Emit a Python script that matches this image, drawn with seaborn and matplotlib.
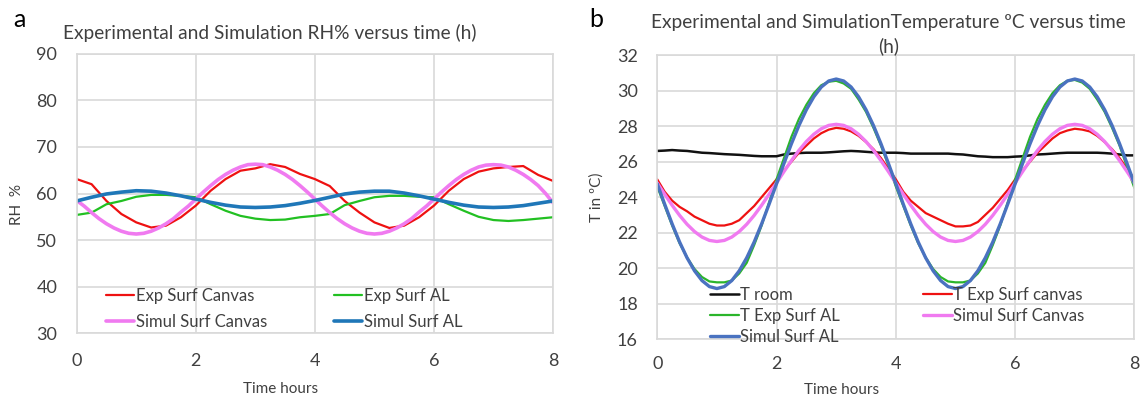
import numpy as np
import matplotlib
matplotlib.use("Agg")
import matplotlib.pyplot as plt
import seaborn as sns

# time axes: every 0.25 h and every 0.125 h
time_q = np.linspace(0, 8, 33)
time_e = np.linspace(0, 8, 65)

# panel a: relative humidity (%), sampled every 0.25 h except the pink curve (0.125 h)
rh_exp_canvas = [63.1, 62.0, 58.4, 55.6, 53.8, 52.7, 53.1, 54.9, 57.4, 60.6, 63.1, 64.9, 65.4, 66.3, 65.7, 64.2, 63.1,
                 61.6, 58.4, 55.9, 53.8, 52.6, 53.1, 54.9, 57.4, 60.6, 63.1, 64.7, 65.4, 65.7, 65.9, 64.0, 62.7]
rh_exp_al = [55.4, 55.9, 57.7, 58.4, 59.3, 59.7, 59.7, 59.5, 59.2, 57.7, 56.3, 55.2, 54.6, 54.3, 54.4, 54.9, 55.2,
             55.6, 57.5, 58.4, 59.2, 59.5, 59.5, 59.3, 59.2, 57.7, 56.3, 55.0, 54.3, 54.1, 54.3, 54.6, 54.9]
rh_sim_canvas = [58.5, 57.3, 55.9, 54.6, 53.5, 52.6, 51.9, 51.45, 51.3, 51.45, 51.9, 52.6, 53.5, 54.6, 56.0, 57.3,
                 58.8, 60.3, 61.7, 63.0, 64.1, 65.0, 65.7, 66.2, 66.3, 66.2, 65.7, 65.0, 64.1, 63.0, 61.7, 60.3, 58.8,
                 57.3, 55.9, 54.6, 53.5, 52.6, 51.9, 51.45, 51.3, 51.45, 51.9, 52.6, 53.5, 54.6, 56.0, 57.3,
                 58.8, 60.3, 61.7, 63.0, 64.1, 65.0, 65.7, 66.1, 66.2, 66.1, 65.7, 65.0, 64.1, 63.0, 61.7, 60.0, 58.0]
rh_sim_al = [58.4, 59.2, 59.9, 60.3, 60.6, 60.5, 60.1, 59.5, 58.8, 58.1, 57.5, 57.1, 57.0, 57.1, 57.4, 57.9, 58.5,
             59.2, 59.9, 60.3, 60.5, 60.5, 60.1, 59.5, 58.8, 58.1, 57.5, 57.1, 57.0, 57.1, 57.4, 57.9, 58.4]

# panel b: temperature (ºC), sampled every 0.125 h
t_room = [26.6, 26.62, 26.65, 26.62, 26.6, 26.55, 26.5, 26.48, 26.45, 26.42, 26.4, 26.38, 26.35, 26.32, 26.3, 26.3,
          26.3, 26.4, 26.45, 26.48, 26.5, 26.5, 26.5, 26.52, 26.55, 26.58, 26.6, 26.58, 26.55, 26.52, 26.5, 26.5,
          26.5, 26.48, 26.45, 26.45, 26.45, 26.45, 26.45, 26.45, 26.42, 26.4, 26.35, 26.3, 26.28, 26.25, 26.25,
          26.25, 26.28, 26.3, 26.35, 26.4, 26.42, 26.45, 26.48, 26.5, 26.5, 26.5, 26.5, 26.5, 26.48, 26.45, 26.4,
          26.35, 26.35]
t_exp_canvas = [25.0, 24.3, 23.8, 23.45, 23.2, 22.9, 22.7, 22.5, 22.4, 22.4, 22.5, 22.7, 23.1, 23.5, 24.0, 24.5,
                25.0, 25.5, 26.0, 26.5, 26.9, 27.3, 27.6, 27.8, 27.9, 27.85, 27.7, 27.45, 27.1, 26.7, 26.2, 25.6,
                25.0, 24.3, 23.8, 23.45, 23.1, 22.9, 22.7, 22.5, 22.35, 22.35, 22.4, 22.6, 23.0, 23.4, 23.9, 24.4,
                25.0, 25.5, 26.0, 26.5, 26.9, 27.3, 27.6, 27.75, 27.85, 27.8, 27.7, 27.45, 27.1, 26.7, 26.2, 25.6,
                25.0]
t_exp_al = [24.6, 23.5, 22.4, 21.4, 20.6, 19.95, 19.5, 19.25, 19.2, 19.2, 19.3, 19.7, 20.3, 21.3, 22.4, 23.7,
            25.0, 26.2, 27.4, 28.4, 29.2, 29.85, 30.3, 30.5, 30.55, 30.4, 30.1, 29.5, 28.8, 27.9, 26.9, 25.8,
            24.6, 23.5, 22.4, 21.4, 20.6, 19.95, 19.5, 19.25, 19.2, 19.2, 19.3, 19.7, 20.3, 21.3, 22.4, 23.7,
            25.0, 26.2, 27.4, 28.4, 29.2, 29.85, 30.3, 30.55, 30.6, 30.45, 30.1, 29.5, 28.8, 27.9, 26.9, 25.7,
            24.5]
t_sim_canvas = [24.8, 24.16, 23.54, 22.97, 22.47, 22.06, 21.75, 21.56, 21.5, 21.56, 21.75, 22.06, 22.47, 22.97,
                23.54, 24.16, 24.8, 25.44, 26.06, 26.63, 27.13, 27.54, 27.85, 28.04, 28.1, 28.04, 27.85, 27.54,
                27.13, 26.63, 26.06, 25.44, 24.8, 24.16, 23.54, 22.97, 22.47, 22.06, 21.75, 21.56, 21.5, 21.56,
                21.75, 22.06, 22.47, 22.97, 23.54, 24.16, 24.8, 25.44, 26.06, 26.63, 27.13, 27.54, 27.85, 28.04,
                28.1, 28.04, 27.85, 27.54, 27.13, 26.63, 26.06, 25.44, 24.8]
t_sim_al = [24.75, 23.6, 22.49, 21.47, 20.58, 19.85, 19.3, 18.96, 18.85, 18.96, 19.3, 19.85, 20.58, 21.47, 22.49,
            23.6, 24.75, 25.9, 27.01, 28.03, 28.92, 29.65, 30.2, 30.54, 30.65, 30.54, 30.2, 29.65, 28.92, 28.03,
            27.01, 25.9, 24.75, 23.6, 22.49, 21.47, 20.58, 19.85, 19.3, 18.96, 18.85, 18.96, 19.3, 19.85, 20.58,
            21.47, 22.49, 23.6, 24.75, 25.9, 27.01, 28.03, 28.92, 29.65, 30.2, 30.54, 30.65, 30.54, 30.2, 29.65,
            28.92, 28.03, 27.01, 25.9, 24.75]

sns.set_style("white")
plt.rcParams['font.family'] = ['Lato', 'DejaVu Sans']

grid_color = "#d9d9d9"
text_color = "#404040"

fig = plt.figure(figsize=(11.45, 3.99), dpi=100)
ax_a = fig.add_axes([0.067, 0.165, 0.416, 0.700])
ax_b = fig.add_axes([0.574, 0.150, 0.4168, 0.712])


def style_axes(ax, ylim, yticks, xpad):
    ax.set_xlim(0, 8)
    ax.set_ylim(*ylim)
    ax.set_xticks([0, 2, 4, 6, 8])
    ax.set_yticks(yticks)
    ax.grid(True, color=grid_color, linewidth=1.2)
    ax.set_axisbelow(True)
    for sp in ax.spines.values():
        sp.set_color(grid_color)
        sp.set_linewidth(1.2)
    ax.tick_params(axis='both', length=0, labelsize=13, colors=text_color)
    ax.tick_params(axis='y', pad=14)
    ax.tick_params(axis='x', pad=xpad)
    ax.set_xlabel("Time hours", fontsize=11, color=text_color)


# panel a
series_a = [
    (time_q, rh_exp_canvas, "Exp Surf Canvas", "#ee1111", 1.6),
    (time_q, rh_exp_al, "Exp Surf AL", "#22c022", 1.6),
    (time_e, rh_sim_canvas, "Simul Surf Canvas", "#f07af0", 2.6),
    (time_q, rh_sim_al, "Simul Surf AL", "#1f77b8", 2.6),
]
for t, vals, name, color, lw in series_a:
    sns.lineplot(x=t, y=vals, ax=ax_a, color=color, linewidth=lw, label=name)
style_axes(ax_a, (30, 90), [30, 40, 50, 60, 70, 80, 90], 14)
ax_a.set_ylabel("RH  %", fontsize=11, color=text_color)
ax_a.yaxis.set_label_coords(-0.11, 0.46)
ax_a.xaxis.set_label_coords(0.429, -0.175)
h, l = ax_a.get_legend_handles_labels()
order = [0, 2, 1, 3]
ax_a.legend([h[i] for i in order], [l[i] for i in order], ncol=2, frameon=False,
            loc='upper left', bbox_to_anchor=(0.03, 0.215), fontsize=12,
            handlelength=1.7, handletextpad=0.1, columnspacing=4.0, labelspacing=0.58,
            labelcolor=text_color)

# panel b
series_b = [
    (t_room, "T room", "#111111", 1.8),
    (t_exp_canvas, "T Exp Surf canvas", "#ee1111", 1.6),
    (t_exp_al, "T Exp Surf AL", "#2bb52b", 1.6),
    (t_sim_canvas, "Simul Surf Canvas", "#f07af0", 2.4),
    (t_sim_al, "Simul Surf AL", "#4a72c0", 2.4),
]
for vals, name, color, lw in series_b:
    sns.lineplot(x=time_e, y=vals, ax=ax_b, color=color, linewidth=lw, label=name)
style_axes(ax_b, (16, 32), [16, 18, 20, 22, 24, 26, 28, 30, 32], 12)
ax_b.set_ylabel("T in ºC)", fontsize=11, color=text_color)
ax_b.yaxis.set_label_coords(-0.112, 0.5)
ax_b.xaxis.set_label_coords(0.387, -0.155)
h, l = ax_b.get_legend_handles_labels()
order = [0, 2, 4, 1, 3]
ax_b.legend([h[i] for i in order], [l[i] for i in order], ncol=2, frameon=False,
            loc='upper left', bbox_to_anchor=(0.08, 0.238), fontsize=12,
            handlelength=1.7, handletextpad=0.1, columnspacing=5.0, labelspacing=0.31,
            labelcolor=text_color)

# titles and panel letters
fig.text(0.236, 0.917, "Experimental and Simulation RH% versus time (h)",
         ha='center', va='center', fontsize=13.8, color=text_color)
fig.text(0.776, 0.966, "Experimental and SimulationTemperature ºC versus time\n(h)",
         ha='center', va='top', fontsize=13.8, color=text_color, linespacing=1.45)
fig.text(0.012, 0.95, "a", ha='left', va='center', fontsize=18, color="black")
fig.text(0.515, 0.95, "b", ha='left', va='center', fontsize=18, color="black")

fig.savefig("out.png", dpi=100)
